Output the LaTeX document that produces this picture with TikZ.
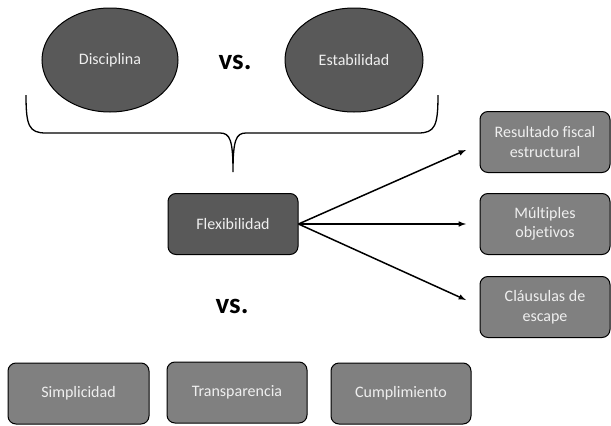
\documentclass[tikz,border=0pt]{standalone}
\usepackage{fontspec}
\setmainfont{Carlito}[Ligatures=NoCommon]
\usepackage{tikz}
\usetikzlibrary{arrows,shapes.geometric}

\definecolor{darkbox}{HTML}{595959}
\definecolor{lightbox}{HTML}{808080}
\definecolor{boxtext}{HTML}{EFEFEF}

\begin{document}
\begin{tikzpicture}[x=1pt,
            y=-1pt,
            >=latex,
            semithick,
            oval/.style={ellipse, draw=black, line width=1pt, fill=darkbox,
                text=boxtext, font=\fontsize{16}{19.5}\selectfont,
                minimum width=136pt, minimum height=104pt, inner sep=0pt},
            darkrect/.style={rectangle, rounded corners=8pt, draw=black,
                line width=1pt, fill=darkbox, text=boxtext,
                font=\fontsize{16}{19.5}\selectfont, inner sep=0pt,
                minimum width=130pt, minimum height=61pt, align=center},
            lightrect/.style={darkrect, fill=lightbox},
            versus/.style={font=\fontsize{29}{30}\selectfont\bfseries}]

        \useasboundingbox (0,0) rectangle (611,426);

        \node[oval]   (dis) at (110,60)  {Disciplina};
        \node[versus] (v1)  at (235,62)  {vs.};
        \node[oval, minimum width=138pt] (est) at (354,60) {Estabilidad};

        \node[darkrect]  (flex) at (233,224) {Flexibilidad};

        \node[lightrect] (res) at (545,142) {Resultado fiscal\\estructural};
        \node[lightrect] (mul) at (545,224) {Múltiples\\objetivos};
        \node[lightrect] (cla) at (545,307) {Cláusulas de\\escape};

        \node[versus] (v2) at (232,306) {vs.};

        \node[lightrect, minimum width=141pt] (sim) at (78.5,393.5)  {Simplicidad};
        \node[lightrect, minimum width=140pt] (tra) at (237,392.5)   {\raisebox{3pt}{Transparencia}};
        \node[lightrect, minimum width=140pt] (cum) at (401,393.5)   {Cumplimiento};

        % brace under the two ovals
        \coordinate (bl) at (26,95);
        \coordinate (br) at (438,95);
        \coordinate (bt) at (233,172);
        \draw[line width=1.3pt] (bl) .. controls (26,126) and (29,133) .. (46,133)
            -- (220,133) .. controls (230,133) and (233,140) .. (bt)
            (bt) .. controls (233,140) and (236,133) .. (246,133)
            -- (418,133) .. controls (435,133) and (438,126) .. (br);

        % arrows out of flexibilidad
        \coordinate (t1) at (466,150);
        \coordinate (t2) at (466,224);
        \coordinate (t3) at (466,300);
        \path[->, line width=1.5pt] (flex.east) edge (t1)
                                    edge (t2)
                                    edge (t3);

    \end{tikzpicture}
\end{document}
